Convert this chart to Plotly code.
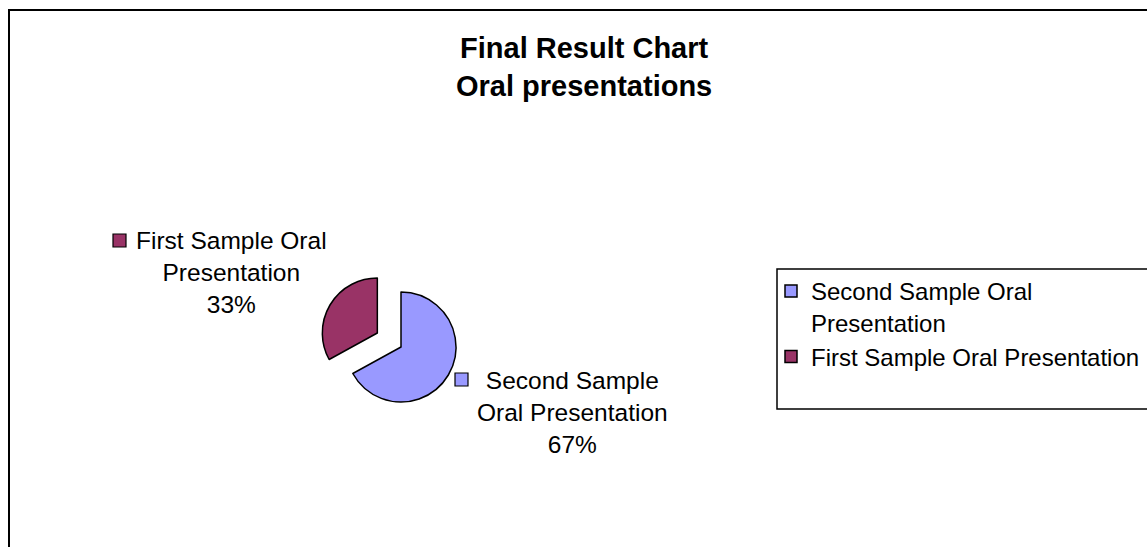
import plotly.graph_objects as go

# ---- data ----
categories = ["Second Sample Oral Presentation", "First Sample Oral Presentation"]
legend_names = ["Second Sample Oral<br>Presentation", "First Sample Oral Presentation"]
label_lines = [["Second Sample", "Oral Presentation"], ["First Sample Oral", "Presentation"]]
values = [67, 33]
colors = ["#9999FF", "#993366"]
pulls = [0, 0.5]
title_lines = ["Final Result Chart", "Oral presentations"]

W, H = 1147, 547
FONT = "Liberation Sans, Arial, sans-serif"

def px(x):
    return x / W

def py(y):
    return 1 - y / H

total = sum(values)
pcts = [round(v / total * 100) for v in values]

fig = go.Figure()
fig.add_trace(go.Pie(
    labels=legend_names,
    values=values,
    sort=False,
    direction="clockwise",
    rotation=0,
    pull=pulls,
    textinfo="none",
    hovertext=categories,
    hoverinfo="text+percent",
    marker=dict(colors=colors, line=dict(color="black", width=1.5)),
    domain=dict(x=[px(318.5), px(483.5)], y=[py(429.5), py(264.5)]),
    showlegend=True,
))

shapes = []
annotations = []

# outer chart border
shapes.append(dict(type="rect", xref="paper", yref="paper",
                   x0=px(9), x1=px(W + 10), y0=py(H + 10), y1=py(10),
                   line=dict(color="black", width=2), fillcolor="rgba(0,0,0,0)"))
# legend box
shapes.append(dict(type="rect", xref="paper", yref="paper",
                   x0=px(777), x1=px(W + 10), y0=py(409), y1=py(269),
                   line=dict(color="black", width=1.5), fillcolor="rgba(0,0,0,0)"))

# title
annotations.append(dict(text="<br>".join(f"<b>{t}</b>" for t in title_lines),
                        x=px(584), y=py(67), xref="paper", yref="paper",
                        xanchor="center", yanchor="middle", showarrow=False,
                        font=dict(family=FONT, size=29, color="black")))

# data labels (text from data), with legend-key squares
label_pos = [(572, 412), (231, 272)]
key_pos = [(455, 373), (113, 234)]
for i in range(len(categories)):
    txt = "<br>".join(label_lines[i] + [f"{pcts[i]}%"])
    annotations.append(dict(text=txt, x=px(label_pos[i][0]), y=py(label_pos[i][1]),
                            xref="paper", yref="paper", xanchor="center", yanchor="middle",
                            showarrow=False, align="center",
                            font=dict(family=FONT, size=24.5, color="black")))
    kx, ky = key_pos[i]
    shapes.append(dict(type="rect", xref="paper", yref="paper",
                       x0=px(kx), x1=px(kx + 13), y0=py(ky + 13), y1=py(ky),
                       line=dict(color="black", width=1.2), fillcolor=colors[i]))

fig.update_layout(
    width=W, height=H,
    margin=dict(l=0, r=0, t=0, b=0, autoexpand=False),
    paper_bgcolor="white",
    plot_bgcolor="white",
    shapes=shapes,
    annotations=annotations,
    legend=dict(x=px(771), y=py(269), xanchor="left", yanchor="top",
                valign="top", tracegroupgap=0,
                font=dict(family=FONT, size=24, color="black"),
                bgcolor="rgba(0,0,0,0)", borderwidth=0, traceorder="normal"),
    font=dict(family=FONT),
)

fig.write_html("out.html")
